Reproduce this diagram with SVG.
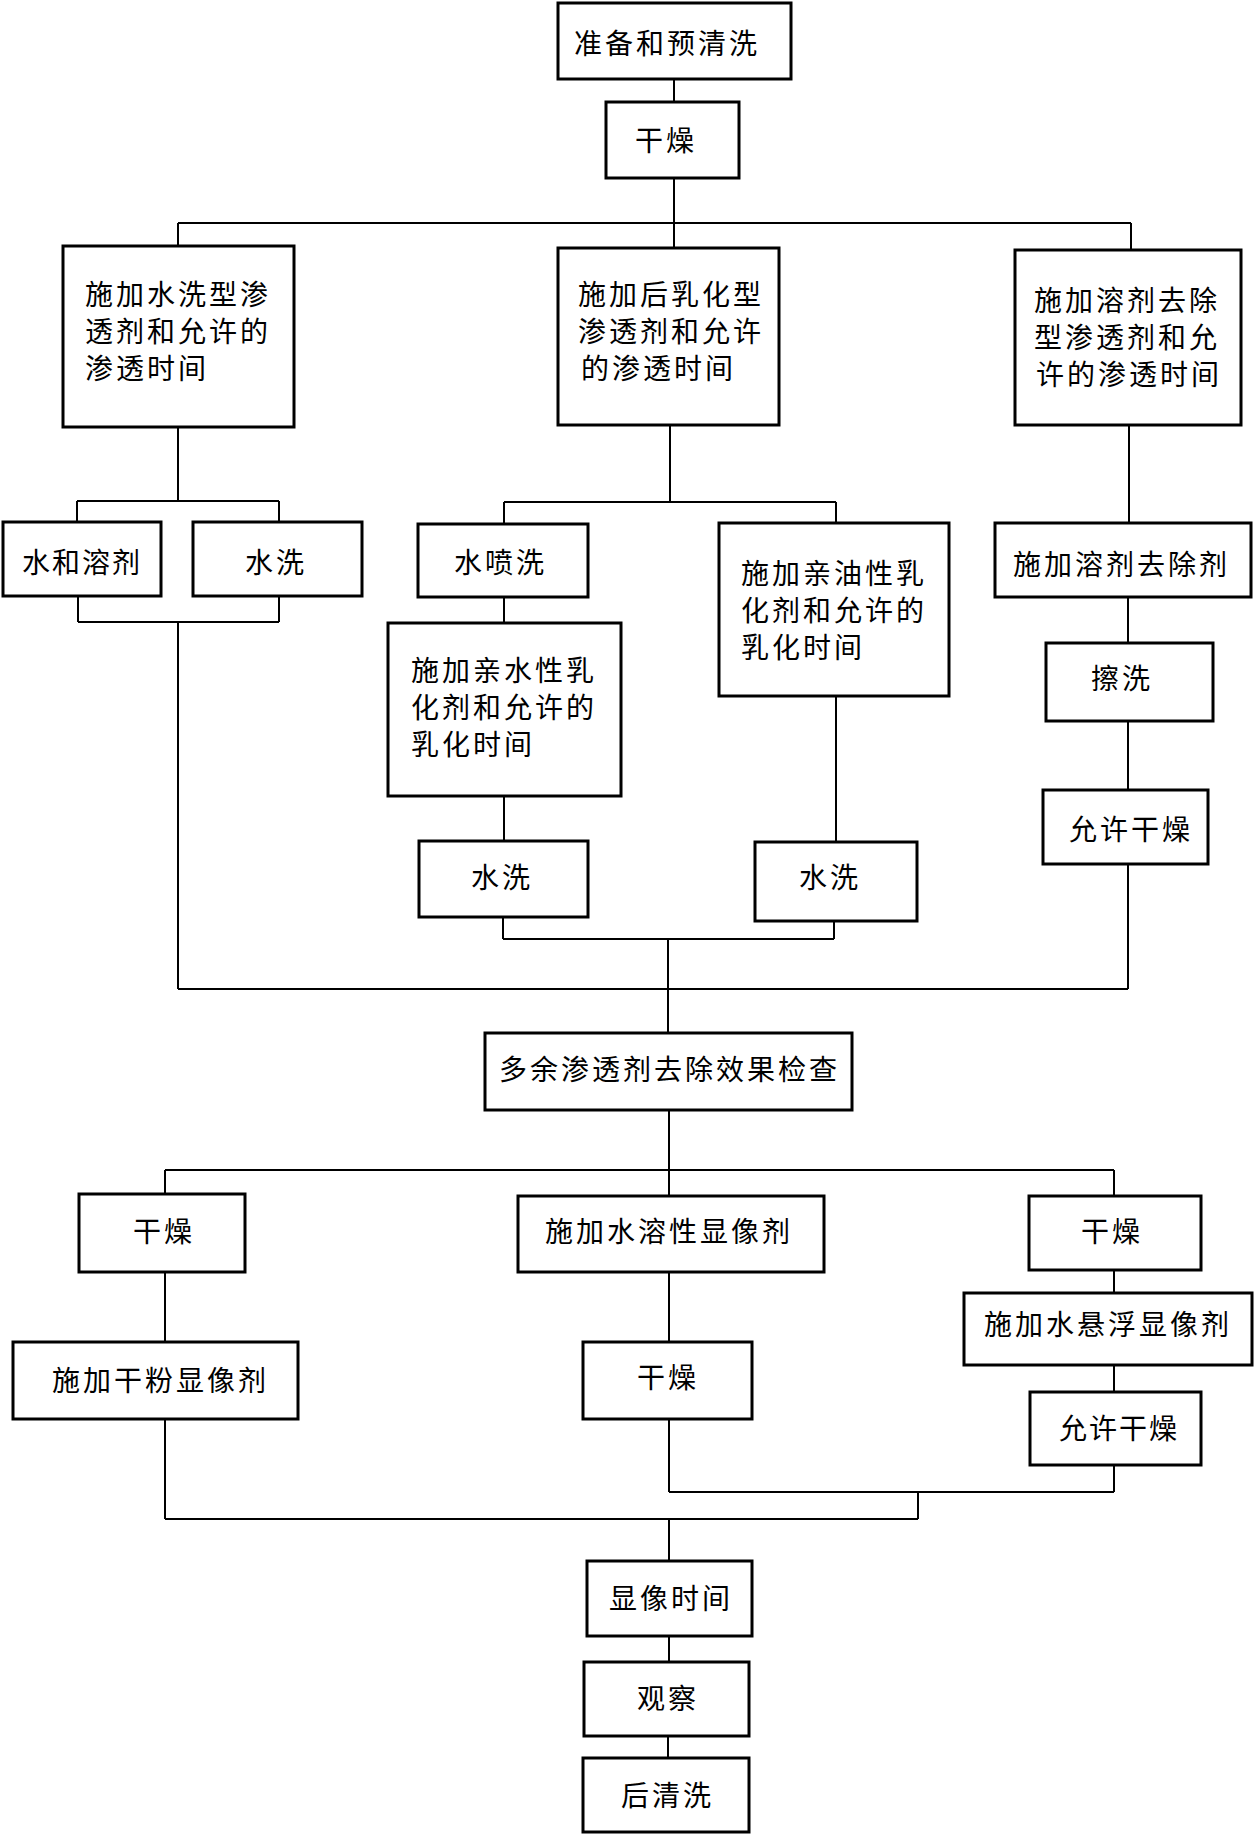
<svg xmlns="http://www.w3.org/2000/svg" width="1254" height="1835" viewBox="0 0 1254 1835">
<style>
.b{fill:#fff;stroke:#000;stroke-width:3}
.c{fill:none;stroke:#000;stroke-width:2}
text{font-family:"Noto Sans CJK SC","Noto Sans",sans-serif;font-size:28px;letter-spacing:3px;fill:#000;dominant-baseline:central}
.s{letter-spacing:2px}
</style>
<rect width="1254" height="1835" fill="#fff"/>
<g id="connectors">
<path class="c" d="M674 79V102M674 178V248M178 223H1131M178 223V246M1131 223V250"/>
<path class="c" d="M178 427V501M77 501H279M77 501V522M279 501V522M78 596V622M279 596V622M78 622H279M178 622V989M178 989H1128"/>
<path class="c" d="M670 425V502M504 502H836M504 502V524M836 502V523M504 597V623M504 796V841M836 696V842M503 917V939M834 921V939M503 939H834M668 939V1033"/>
<path class="c" d="M1129 425V523M1128 597V643M1128 721V790M1128 864V989"/>
<path class="c" d="M669 1110V1196M165 1170H1114M165 1170V1194M1114 1170V1196M165 1272V1342M669 1272V1342M1114 1270V1293M1114 1365V1392M1114 1465V1492M669 1419V1492M669 1492H1114M918 1492V1519M165 1519H918M165 1419V1519M669 1519V1561M669 1636V1662M668 1736V1758"/>
</g>
<g id="n1"><rect class="b" x="558" y="3" width="233" height="76"/><text x="574" y="42">准备和预清洗</text></g>
<g id="n2"><rect class="b" x="606" y="102" width="133" height="76"/><text x="635" y="139">干燥</text></g>
<g id="n3"><rect class="b" x="63" y="246" width="231" height="181"/><text x="85" y="293">施加水洗型渗</text><text x="85" y="330">透剂和允许的</text><text x="85" y="367">渗透时间</text></g>
<g id="n4"><rect class="b" x="558" y="248" width="221" height="177"/><text x="578" y="293">施加后乳化型</text><text x="578" y="330">渗透剂和允许</text><text x="581" y="367">的渗透时间</text></g>
<g id="n5"><rect class="b" x="1015" y="250" width="226" height="175"/><text x="1034" y="299">施加溶剂去除</text><text x="1034" y="336">型渗透剂和允</text><text x="1036" y="373">许的渗透时间</text></g>
<g id="n6"><rect class="b" x="3" y="522" width="158" height="74"/><text class="s" x="22" y="561">水和溶剂</text></g>
<g id="n7"><rect class="b" x="193" y="522" width="169" height="74"/><text x="245" y="561">水洗</text></g>
<g id="n8"><rect class="b" x="418" y="524" width="170" height="73"/><text x="454" y="561">水喷洗</text></g>
<g id="n9"><rect class="b" x="388" y="623" width="233" height="173"/><text x="411" y="669">施加亲水性乳</text><text x="411" y="706">化剂和允许的</text><text x="411" y="743">乳化时间</text></g>
<g id="n10"><rect class="b" x="719" y="523" width="230" height="173"/><text x="741" y="572">施加亲油性乳</text><text x="741" y="609">化剂和允许的</text><text x="741" y="646">乳化时间</text></g>
<g id="n11"><rect class="b" x="995" y="523" width="256" height="74"/><text x="1013" y="563">施加溶剂去除剂</text></g>
<g id="n12"><rect class="b" x="1046" y="643" width="167" height="78"/><text x="1091" y="677">擦洗</text></g>
<g id="n13"><rect class="b" x="1043" y="790" width="165" height="74"/><text x="1069" y="828">允许干燥</text></g>
<g id="n14"><rect class="b" x="419" y="841" width="169" height="76"/><text x="471" y="876">水洗</text></g>
<g id="n15"><rect class="b" x="755" y="842" width="162" height="79"/><text x="799" y="876">水洗</text></g>
<g id="n16"><rect class="b" x="485" y="1033" width="367" height="77"/><text x="499" y="1068">多余渗透剂去除效果检查</text></g>
<g id="n17"><rect class="b" x="79" y="1194" width="166" height="78"/><text x="133" y="1230">干燥</text></g>
<g id="n18"><rect class="b" x="518" y="1196" width="306" height="76"/><text x="545" y="1230">施加水溶性显像剂</text></g>
<g id="n19"><rect class="b" x="1029" y="1196" width="172" height="74"/><text x="1081" y="1230">干燥</text></g>
<g id="n20"><rect class="b" x="13" y="1342" width="285" height="77"/><text x="52" y="1379">施加干粉显像剂</text></g>
<g id="n21"><rect class="b" x="583" y="1342" width="169" height="77"/><text x="637" y="1376">干燥</text></g>
<g id="n22"><rect class="b" x="964" y="1293" width="288" height="72"/><text x="984" y="1323">施加水悬浮显像剂</text></g>
<g id="n23"><rect class="b" x="1030" y="1392" width="171" height="73"/><text class="s" x="1059" y="1427">允许干燥</text></g>
<g id="n24"><rect class="b" x="587" y="1561" width="165" height="75"/><text x="609" y="1597">显像时间</text></g>
<g id="n25"><rect class="b" x="584" y="1662" width="165" height="74"/><text x="637" y="1697">观察</text></g>
<g id="n26"><rect class="b" x="583" y="1758" width="166" height="74"/><text x="621" y="1794">后清洗</text></g>
</svg>
